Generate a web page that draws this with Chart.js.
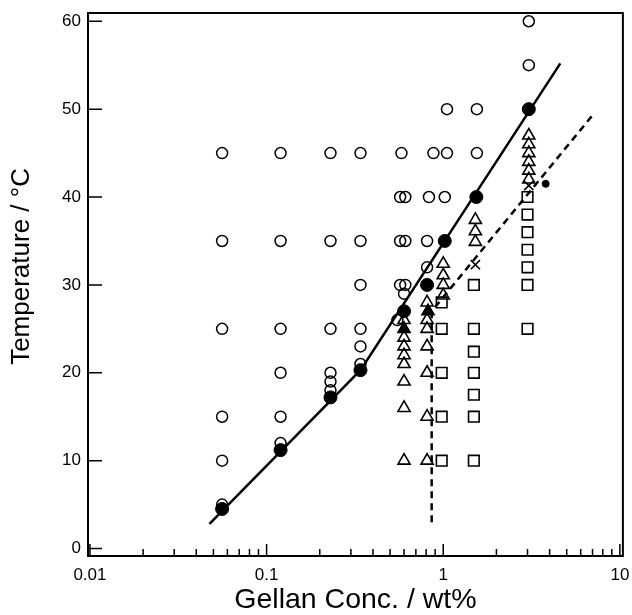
<!DOCTYPE html>
<html>
<head>
<meta charset="utf-8">
<script src="https://cdn.jsdelivr.net/npm/chart.js@4.4.0/dist/chart.umd.min.js"></script>
<style>
  html, body { margin: 0; padding: 0; background: #fff; }
  #wrap { width: 632px; height: 615px; }
</style>
</head>
<body>
<div id="wrap"><canvas id="grafica" width="632" height="615"></canvas></div>
<script>
// Etiquetas de los ejes
const xTicks = [0.01, 0.1, 1, 10];
const yTicks = [0, 10, 20, 30, 40, 50, 60];

// Círculos abiertos (sol)
const circConc = [0.056, 0.056, 0.056, 0.056, 0.056, 0.056,
                  0.12, 0.12, 0.12, 0.12, 0.12, 0.12,
                  0.23, 0.23, 0.23, 0.23, 0.23, 0.23,
                  0.34, 0.34, 0.34, 0.34, 0.34, 0.34,
                  0.58, 0.57, 0.57, 0.57, 0.61, 0.61, 0.61, 0.6, 0.55,
                  0.88, 0.83, 0.81, 0.81,
                  1.05, 1.05, 1.02,
                  1.55, 1.55,
                  3.05, 3.05];
const circTemp = [45, 35, 25, 15, 10, 5,
                  45, 35, 25, 20, 15, 12,
                  45, 35, 25, 20, 19, 18,
                  45, 35, 30, 25, 23, 21,
                  45, 40, 35, 30, 40, 35, 30, 29, 26,
                  45, 40, 35, 32,
                  50, 45, 40,
                  50, 45,
                  60, 55];

// Círculos llenos (transición)
const llenoConc = [0.056, 0.12, 0.23, 0.34, 0.6, 0.81, 1.02, 1.54, 3.05];
const llenoTemp = [4.5, 11.2, 17.2, 20.3, 27, 30, 35, 40, 50];

// Punto pequeño lleno
const puntoConc = [3.8];
const puntoTemp = [41.5];

// Triángulos abiertos
const triConc = [0.6, 0.6, 0.6, 0.6, 0.6, 0.6, 0.6, 0.6,
                 0.81, 0.81, 0.81, 0.81, 0.81, 0.81, 0.81,
                 1.0, 1.0, 1.0, 1.0,
                 1.52, 1.52, 1.52,
                 3.05, 3.05, 3.05, 3.05, 3.05, 3.05];
const triTemp = [26, 24, 23, 22, 21, 19, 16, 10,
                 28, 26, 25, 23, 20, 15, 10,
                 32.4, 31.1, 30, 28.8,
                 37.4, 36.1, 34.9,
                 47, 46, 45, 44, 43, 42];

// Triángulos llenos
const triLlenoConc = [0.6, 0.82];
const triLlenoTemp = [25, 27];

// Cuadrados (gel)
const cuadConc = [0.98, 0.98, 0.98, 0.98, 0.98,
                  1.49, 1.49, 1.49, 1.49, 1.49, 1.49, 1.49,
                  3.0, 3.0, 3.0, 3.0, 3.0, 3.0, 3.0];
const cuadTemp = [28, 25, 20, 15, 10,
                  30, 25, 22.4, 20, 17.5, 15, 10,
                  40, 38, 36, 34, 32, 30, 25];

// Cruces
const cruzConc = [1.52, 3.05];
const cruzTemp = [32.3, 41.3];

// Línea continua
const lineaConc = [0.0475, 0.34, 4.6];
const lineaTemp = [2.8, 20.3, 55.2];

// Línea discontinua
const guionConc = [0.86, 0.86, 7.0];
const guionTemp = [3, 27, 49.3];

const puntos = (xs, ys) => xs.map((x, i) => ({ x: x, y: ys[i] }));
const fuente = "'Liberation Sans', Arial, Helvetica, sans-serif";
const transparente = 'rgba(0,0,0,0)';

// Marco y marcas de los ejes hacia dentro
const ejesPlugin = {
    id: 'ejes',
    afterDatasetsDraw(chart) {
        const { ctx, chartArea: a, scales: { x, y } } = chart;
        ctx.save();
        ctx.strokeStyle = '#000';
        ctx.lineWidth = 2;
        ctx.strokeRect(a.left, a.top, a.right - a.left, a.bottom - a.top);
        ctx.lineWidth = 1.5;
        ctx.beginPath();
        yTicks.forEach(v => {
            const py = y.getPixelForValue(v);
            ctx.moveTo(a.left, py);
            ctx.lineTo(a.left + 14, py);
        });
        for (let e = -2; e <= 1; e++) {
            for (let m = 1; m <= 9; m++) {
                const v = m * Math.pow(10, e);
                if (v > x.max) break;
                const px = x.getPixelForValue(v);
                const largo = m === 1 ? 12 : 7;
                ctx.moveTo(px, a.bottom);
                ctx.lineTo(px, a.bottom - largo);
            }
        }
        ctx.stroke();
        ctx.restore();
    }
};

const ctx = document.getElementById('grafica').getContext('2d');
new Chart(ctx, {
    type: 'scatter',
    data: {
        datasets: [
            { data: puntos(circConc, circTemp), pointStyle: 'circle', pointRadius: 5.5,
              borderColor: '#000', backgroundColor: transparente, borderWidth: 1.5 },
            { data: puntos(llenoConc, llenoTemp), pointStyle: 'circle', pointRadius: 6.5,
              borderColor: '#000', backgroundColor: '#000', borderWidth: 1 },
            { data: puntos(puntoConc, puntoTemp), pointStyle: 'circle', pointRadius: 3.5,
              borderColor: '#000', backgroundColor: '#000', borderWidth: 1 },
            { data: puntos(triConc, triTemp), pointStyle: 'triangle', pointRadius: 7,
              borderColor: '#000', backgroundColor: transparente, borderWidth: 1.6 },
            { data: puntos(triLlenoConc, triLlenoTemp), pointStyle: 'triangle', pointRadius: 7,
              borderColor: '#000', backgroundColor: '#000', borderWidth: 1.6 },
            { data: puntos(cuadConc, cuadTemp), pointStyle: 'rect', pointRadius: 7.5,
              borderColor: '#000', backgroundColor: transparente, borderWidth: 1.6 },
            { data: puntos(cruzConc, cruzTemp), pointStyle: 'crossRot', pointRadius: 6.5,
              borderColor: '#000', borderWidth: 1.6 },
            { data: puntos(lineaConc, lineaTemp), showLine: true, pointRadius: 0,
              borderColor: '#000', borderWidth: 2.5, tension: 0 },
            { data: puntos(guionConc, guionTemp), showLine: true, pointRadius: 0,
              borderColor: '#000', borderWidth: 2.5, borderDash: [7, 5], tension: 0 }
        ]
    },
    options: {
        responsive: false,
        animation: false,
        layout: { padding: { left: 0, right: 4, top: 13, bottom: 0 } },
        plugins: { legend: { display: false }, tooltip: { enabled: false } },
        scales: {
            x: {
                type: 'logarithmic',
                min: 0.00975,
                max: 10.4,
                afterBuildTicks: s => { s.ticks = xTicks.map(v => ({ value: v })); },
                afterFit: s => { s.height = 59; s.paddingLeft = 0; s.paddingRight = 0; },
                grid: { display: false, drawTicks: false },
                border: { display: false },
                ticks: {
                    callback: v => String(v),
                    font: { family: fuente, size: 17 },
                    color: '#000',
                    padding: 9,
                    maxRotation: 0,
                    autoSkip: false
                },
                title: {
                    display: true,
                    text: 'Gellan Conc. / wt%',
                    font: { family: fuente, size: 28.5, lineHeight: 1 },
                    color: '#000',
                    padding: { top: 0, bottom: 1 }
                }
            },
            y: {
                type: 'linear',
                min: -0.85,
                max: 60.94,
                afterBuildTicks: s => { s.ticks = yTicks.map(v => ({ value: v })); },
                afterFit: s => { s.width = 88; s.paddingTop = 0; s.paddingBottom = 0; },
                grid: { display: false, drawTicks: false },
                border: { display: false },
                ticks: {
                    font: { family: fuente, size: 17 },
                    color: '#000',
                    padding: 7
                },
                title: {
                    display: true,
                    // espacios iniciales: el título va algo más arriba que el centro del eje
                    text: '     Temperature / °C',
                    font: { family: fuente, size: 26, lineHeight: 1 },
                    color: '#000',
                    padding: { top: 9, bottom: 0 }
                }
            }
        }
    },
    plugins: [ejesPlugin]
});
</script>
</body>
</html>
